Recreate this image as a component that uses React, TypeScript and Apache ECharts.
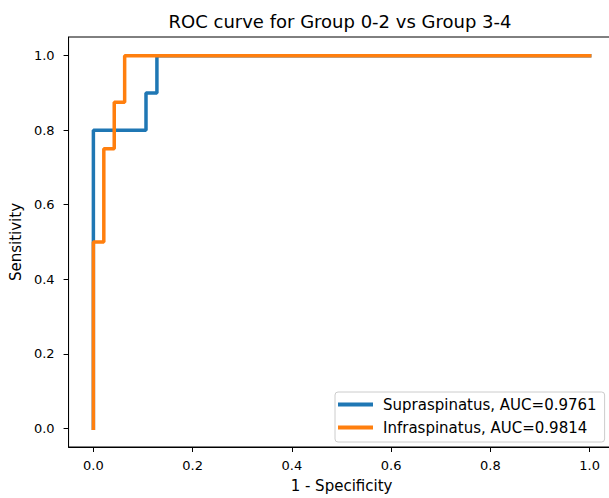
import React, { useEffect, useRef } from "react";
import * as echarts from "echarts";

const supraFpr = [0, 0, 0, 0.106, 0.106, 0.128, 0.128, 1.0];
const supraTpr = [0, 0.5, 0.8, 0.8, 0.9, 0.9, 1.0, 1.0];
const infraFpr = [0, 0, 0.021, 0.021, 0.042, 0.042, 0.063, 0.063, 1.0];
const infraTpr = [0, 0.5, 0.5, 0.75, 0.75, 0.875, 0.875, 1.0, 1.0];
const tickValues = [0, 0.2, 0.4, 0.6, 0.8, 1.0];
const seriesNames = ["Supraspinatus, AUC=0.9761", "Infraspinatus, AUC=0.9814"];
const titleText = "ROC curve for Group 0-2 vs Group 3-4";

const FONT = "DejaVu Sans";
const CHART_W = 630;

export default function App() {
  const ref = useRef<HTMLDivElement>(null);
  useEffect(() => {
    document.body.style.margin = "0";
    document.body.style.overflow = "hidden";
    const chart = echarts.init(ref.current!, null, { renderer: "svg" });
    const pair = (xs: number[], ys: number[]) => xs.map((x, i) => [x, ys[i]]);
    chart.setOption({
      animation: false,
      backgroundColor: "#fff",
      textStyle: { fontFamily: FONT },
      title: {
        text: titleText,
        left: 340,
        textAlign: "center",
        top: 12,
        padding: 0,
        textStyle: { fontFamily: FONT, fontSize: 18, fontWeight: "normal", color: "#000" },
      },
      grid: {
        left: 67.5,
        top: 37,
        width: 547,
        height: 412,
        show: true,
        borderColor: "#000",
        borderWidth: 1,
        containLabel: false,
      },
      legend: {
        left: 335,
        bottom: 56,
        orient: "vertical",
        itemWidth: 35,
        itemHeight: 4,
        itemGap: 8,
        icon: "rect",
        borderColor: "#cccccc",
        borderWidth: 1,
        borderRadius: 3,
        padding: [5, 8, 7, 3],
        backgroundColor: "#fff",
        textStyle: { fontFamily: FONT, fontSize: 15, lineHeight: 15, color: "#000", padding: [0, 0, 0, 5] },
        data: seriesNames,
      },
      xAxis: {
        type: "value",
        min: -0.05,
        max: 1.05,
        name: "1 - Specificity",
        nameLocation: "middle",
        nameGap: 31,
        nameTextStyle: { fontFamily: FONT, fontSize: 15, color: "#000" },
        axisLine: { show: true, onZero: false, lineStyle: { color: "#000" } },
        axisTick: { show: true, length: 5, customValues: tickValues, lineStyle: { color: "#000" } },
        axisLabel: {
          customValues: tickValues,
          formatter: (v: number) => v.toFixed(1),
          fontFamily: FONT,
          fontSize: 13,
          color: "#000",
          margin: 12,
        },
        splitLine: { show: false },
      },
      yAxis: {
        type: "value",
        min: -0.05,
        max: 1.05,
        name: "Sensitivity",
        nameLocation: "middle",
        nameGap: 42,
        nameTextStyle: { fontFamily: FONT, fontSize: 15, color: "#000" },
        axisLine: { show: true, onZero: false, lineStyle: { color: "#000" } },
        axisTick: { show: true, length: 5, customValues: tickValues, lineStyle: { color: "#000" } },
        axisLabel: {
          customValues: tickValues,
          formatter: (v: number) => v.toFixed(1),
          fontFamily: FONT,
          fontSize: 13,
          color: "#000",
          margin: 14,
        },
        splitLine: { show: false },
      },
      series: [
        {
          name: seriesNames[0],
          type: "line",
          data: pair(supraFpr, supraTpr),
          showSymbol: false,
          symbol: "none",
          color: "#1f77b4",
          lineStyle: { width: 3.5, color: "#1f77b4", cap: "square" },
          z: 2,
        },
        {
          name: seriesNames[1],
          type: "line",
          data: pair(infraFpr, infraTpr),
          showSymbol: false,
          symbol: "none",
          color: "#ff7f0e",
          lineStyle: { width: 3.5, color: "#ff7f0e", cap: "square" },
          z: 3,
        },
      ],
    });
    return () => chart.dispose();
  }, []);
  return (
    <div style={{ width: 609, height: 498, overflow: "hidden", position: "relative" }}>
      <div ref={ref} style={{ width: CHART_W, height: 498 }} />
    </div>
  );
}
